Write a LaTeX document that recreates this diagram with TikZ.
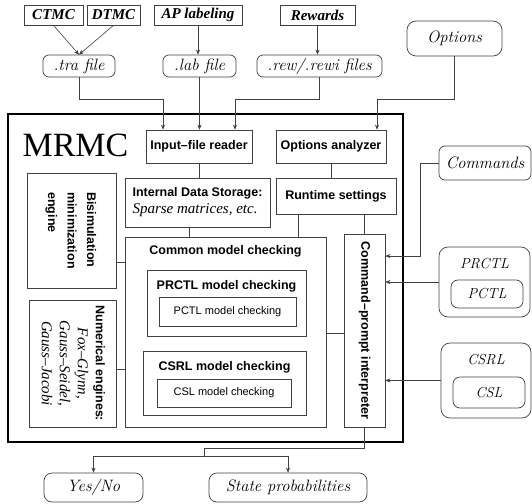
\documentclass[tikz,border=0pt]{standalone}
\usepackage{fontspec}
\usepackage{graphicx}
\setsansfont{Liberation Sans}
\newfontfamily\timesfont{Liberation Serif}
\usetikzlibrary{arrows.meta, positioning}

\tikzset{
  blk/.style={draw=black!75, line width=0.7pt, inner sep=0pt},
  part/.style={blk, font=\sffamily\bfseries\fontsize{12.5}{15}\selectfont},
  plain/.style={blk, font=\sffamily\fontsize{11}{13}\selectfont},
  file/.style={blk, rounded corners=6pt, font=\itshape\fontsize{16.5}{19}\selectfont},
  logic/.style={blk, rounded corners=7pt, font=\itshape\fontsize{14.5}{17}\selectfont},
  src/.style={blk, font=\timesfont\bfseries\itshape\fontsize{15}{17}\selectfont},
  title/.style={inner sep=0pt, font=\sffamily\bfseries\fontsize{12.5}{15}\selectfont},
  wire/.style={draw=black!75, line width=0.6pt},
  arr/.style={wire, -{Stealth[length=5pt, width=4pt]}},
}

\begin{document}
\begin{tikzpicture}[x=1pt, y=-1pt]
  \useasboundingbox (0,0) rectangle (532,503);

  % tool frame
  \node[draw, line width=2pt, minimum width=395pt, minimum height=328pt] (mrmc) at (205.5,278) {};
  \node[inner sep=0pt, font=\timesfont\fontsize{34}{34}\selectfont] (mrmcname) at (75.5,145.5) {MRMC};

  % inputs
  \node[src, minimum width=59pt, minimum height=20pt] (ctmc) at (53.5,15) {CTMC};
  \node[src, minimum width=53pt, minimum height=20pt] (dtmc) at (113.5,15) {DTMC};
  \node[src, minimum width=88pt, minimum height=20pt] (ap) at (198,15) {AP labeling};
  \node[src, minimum width=75pt, minimum height=20pt] (rewards) at (317.5,15) {Rewards};

  \node[file, minimum width=72pt, minimum height=22pt] (tra) at (79,66) {.tra file};
  \node[file, minimum width=73pt, minimum height=22pt] (lab) at (199.5,66) {.lab file};
  \node[file, minimum width=125pt, minimum height=22pt] (rew) at (319.5,66) {.rew/.rewi files};
  \node[file, rounded corners=9pt, minimum width=95pt, minimum height=35pt] (options) at (454.5,38.5) {Options};

  % inside the tool
  \node[part, minimum width=106pt, minimum height=33pt] (reader) at (199,146.5) {Input–file reader};
  \node[part, minimum width=110pt, minimum height=33pt] (analyzer) at (331,146.5) {Options analyzer};
  \node[part, minimum width=145pt, minimum height=49pt, align=left] (ids) at (197.5,202.5)
    {Internal Data Storage:\\[2pt]{\timesfont\mdseries\itshape\fontsize{15}{17}\selectfont Sparse matrices, etc.}};
  \node[part, minimum width=120pt, minimum height=36pt] (runtime) at (336,196) {Runtime settings};

  \node[part, minimum width=89pt, minimum height=115pt] (bisim) at (71.5,230.5)
    {\rotatebox{-90}{\renewcommand\arraystretch{1.3}\begin{tabular}{@{}l@{}}Bisimulation\\minimization\\engine\end{tabular}}};
  \node[part, minimum width=87pt, minimum height=127pt] (numeng) at (72.5,363.5)
    {\rotatebox{-90}{\renewcommand\arraystretch{1.2}\begin{tabular}{@{}c@{}}Numerical engines:\\
      \timesfont\mdseries\itshape\fontsize{15}{15}\selectfont Fox–Glynn,\\
      \timesfont\mdseries\itshape\fontsize{15}{15}\selectfont Gauss–Seidel,\\
      \timesfont\mdseries\itshape\fontsize{15}{15}\selectfont Gauss–Jacobi\end{tabular}}};

  \node[blk, minimum width=201pt, minimum height=190pt] (cmc) at (225.5,332) {};
  \node[title, below=9pt of cmc.north] (cmctitle) {Common model checking};
  \node[blk, minimum width=159pt, minimum height=66pt] (prctlmc) at (226.5,303) {};
  \node[title, below=11pt of prctlmc.north] (prctlmctitle) {PRCTL model checking};
  \node[plain, minimum width=137pt, minimum height=29pt] (pctlmc) at (227.5,311.5) {PCTL model checking};
  \node[blk, minimum width=163pt, minimum height=64pt] (csrlmc) at (224.5,383) {};
  \node[title, below=11pt of csrlmc.north] (csrlmctitle) {CSRL model checking};
  \node[plain, minimum width=134pt, minimum height=28pt] (cslmc) at (224,393) {CSL model checking};

  \node[part, minimum width=41pt, minimum height=193pt] (cpi) at (364.5,330.5)
    {\rotatebox{-90}{Command–prompt interpreter}};

  % right side
  \node[file, minimum width=92pt, minimum height=34pt] (commands) at (485,163) {Commands};
  \node[blk, rounded corners=9pt, minimum width=91pt, minimum height=70pt] (prctl) at (484.5,282) {};
  \node[inner sep=0pt, font=\itshape\fontsize{14.5}{17}\selectfont, below=11pt of prctl.north] (prctlname) {PRCTL};
  \node[logic, minimum width=72pt, minimum height=28pt] (pctl) at (487,294) {PCTL};
  \node[blk, rounded corners=9pt, minimum width=90pt, minimum height=75pt] (csrl) at (486,380.5) {};
  \node[inner sep=0pt, font=\itshape\fontsize{14.5}{17}\selectfont, below=11pt of csrl.north] (csrlname) {CSRL};
  \node[logic, minimum width=72pt, minimum height=31pt] (csl) at (489,392.5) {CSL};

  % outputs
  \node[file, rounded corners=8pt, minimum width=99pt, minimum height=29pt] (yesno) at (93.5,487.5) {Yes/No};
  \node[file, rounded corners=8pt, minimum width=158pt, minimum height=29pt] (stateprob) at (288,487.5) {State probabilities};

  % connectors
  \coordinate (bus) at (0,99);
  \coordinate (in1) at ([xshift=-36pt]reader.north);
  \coordinate (in3) at ([xshift=36pt]reader.north);
  \coordinate (in4) at ([xshift=46pt]analyzer.north);
  \draw[arr] (ctmc.south) -- (tra.north);
  \draw[arr] (dtmc.south) -- (tra.north);
  \draw[arr] (ap.south) -- (ap.south |- lab.north);
  \draw[arr] (rewards.south) -- (rewards.south |- rew.north);
  \draw[arr] (tra.south) |- (in1 |- bus) -- (in1);
  \draw[arr] (lab.south) -- (lab.south |- reader.north);
  \draw[arr] (rew.south) |- (in3 |- bus) -- (in3);
  \draw[arr] (options.south) |- (in4 |- bus) -- (in4);

  \coordinate (idsout) at ([xshift=-8.5pt]ids.south);
  \coordinate (rtcmc) at ([xshift=-38pt]runtime.south);
  \coordinate (bisout) at ([yshift=-31.5pt]bisim.east);
  \coordinate (numout) at ([yshift=-5.5pt]numeng.east);
  \coordinate (cmcout) at ([yshift=-2.5pt]cpi.west);
  \draw[wire] (reader.south) -- (reader.south |- ids.north);
  \draw[wire] (analyzer.south) -- (analyzer.south |- runtime.north);
  \draw[wire] (idsout) -- (idsout |- cmc.north);
  \draw[wire] (rtcmc) -- (rtcmc |- cmc.north);
  \draw[wire] (cpi.north) -- (cpi.north |- runtime.south);
  \draw[wire] (bisout) -- (bisout -| cmc.west);
  \draw[wire] (numout) -- (numout -| cmc.west);
  \draw[wire] (cmc.east |- cmcout) -- (cmcout);

  \coordinate (cmdbend) at (420,256);
  \draw[arr] (commands.west) -| (cmdbend) -- (cmdbend -| cpi.east);
  \draw[arr] (prctl.west) -- (prctl.west -| cpi.east);
  \draw[arr] (csrl.west) -- (csrl.west -| cpi.east);

  \coordinate (outbend) at (204,448);
  \coordinate (split) at (204,456);
  \draw[wire] (cpi.south) |- (outbend) -- (split);
  \draw[arr] (split) -| (yesno.north);
  \draw[arr] (split) -| (stateprob.north);
\end{tikzpicture}
\end{document}
